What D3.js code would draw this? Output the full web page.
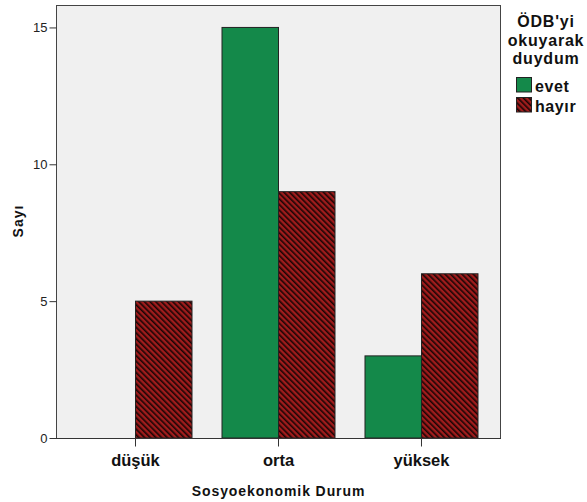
<!DOCTYPE html>
<html><head><meta charset="utf-8">
<script src="https://cdn.jsdelivr.net/npm/d3@7"></script>
<style>body{margin:0;background:#fff}svg{display:block}</style>
</head><body>
<svg id="c" width="587" height="502"></svg>
<script>
const categories = ["düşük", "orta", "yüksek"];
const seriesNames = ["evet", "hayır"];
const evet = [0, 15, 3];
const hayir = [5, 9, 6];
const yTicks = [0, 5, 10, 15];
const legendTitle = ["ÖDB'yi", "okuyarak", "duydum"];
const xTitle = "Sosyoekonomik Durum";
const yTitle = "Sayı";

const values = [evet, hayir];
const svg = d3.select("#c");
const font = "Arial, 'Liberation Sans', sans-serif";
const L = 56, R = 501, T = 5, B = 438;

const defs = svg.append("defs");
const pat = defs.append("pattern").attr("id", "hatch").attr("patternUnits", "userSpaceOnUse")
  .attr("width", 4).attr("height", 4).attr("patternTransform", "rotate(-45)");
pat.append("rect").attr("width", 4).attr("height", 4).attr("fill", "#a01c1c");
pat.append("rect").attr("x", 0).attr("width", 1.6).attr("height", 4).attr("fill", "#1a0505");

const x0 = d3.scaleBand().domain(categories).range([L, R]).paddingInner(0).paddingOuter(0.056);
const innerW = 113;
const x1 = d3.scaleBand().domain(seriesNames).range([0, innerW]);
const y = d3.scaleLinear().domain([0, 15.82]).range([B, T]);

svg.append("rect").attr("x", L).attr("y", T).attr("width", R - L).attr("height", B - T).attr("fill", "#f0f0f0");

const fills = ["#14894a", "url(#hatch)"];
seriesNames.forEach((s, si) => {
  svg.append("g").selectAll("rect").data(categories.map((c, i) => ({c, v: values[si][i]})).filter(d => d.v > 0))
    .join("rect")
    .attr("x", d => x0(d.c) + x0.bandwidth() / 2 - innerW / 2 + x1(s))
    .attr("y", d => y(d.v))
    .attr("width", x1.bandwidth())
    .attr("height", d => B - y(d.v))
    .attr("fill", fills[si])
    .attr("stroke", "#222").attr("stroke-width", 1);
});

// frame
svg.append("rect").attr("x", L + 0.5).attr("y", T + 0.5).attr("width", R - L - 1).attr("height", B - T)
  .attr("fill", "none").attr("stroke", "#444").attr("stroke-width", 1);

// y axis
const ya = svg.append("g").attr("transform", `translate(${L + 0.5},0)`)
  .call(d3.axisLeft(y).tickValues(yTicks).tickSize(7).tickPadding(2).tickFormat(d3.format("d")));
ya.select(".domain").remove();
ya.selectAll("line").attr("stroke", "#333");
ya.selectAll("text").attr("font-family", font).attr("font-size", 13).attr("fill", "#222");

// x axis
const xa = svg.append("g").attr("transform", `translate(0,${B + 0.5})`)
  .call(d3.axisBottom(x0).tickSize(8).tickPadding(8));
xa.select(".domain").attr("stroke", "#333").attr("d", `M${L},0H${R}`);
xa.selectAll("line").attr("stroke", "#333");
xa.selectAll("text").attr("font-family", font).attr("font-size", 16.5).attr("font-weight", "bold").attr("fill", "#111");

svg.append("text").attr("x", (L + R) / 2).attr("y", 496).attr("text-anchor", "middle")
  .attr("font-family", font).attr("font-size", 14).attr("letter-spacing", 0.9).attr("font-weight", "bold").attr("fill", "#111").text(xTitle);
svg.append("text").attr("transform", `translate(23,${221}) rotate(-90)`).attr("text-anchor", "middle")
  .attr("font-family", font).attr("font-size", 14).attr("letter-spacing", 1).attr("font-weight", "bold").attr("fill", "#111").text(yTitle);

// legend
const lg = svg.append("g");
legendTitle.forEach((t, i) => {
  lg.append("text").attr("x", 546).attr("y", 27 + i * 18.5).attr("text-anchor", "middle")
    .attr("font-family", font).attr("font-size", 16).attr("letter-spacing", 0.8).attr("font-weight", "bold").attr("fill", "#111").text(t);
});
seriesNames.forEach((s, i) => {
  lg.append("rect").attr("x", 516.5).attr("y", 77.5 + i * 20).attr("width", 15).attr("height", 14.5)
    .attr("fill", fills[i]).attr("stroke", "#222");
  lg.append("text").attr("x", 535).attr("y", 92 + i * 20)
    .attr("font-family", font).attr("font-size", 16).attr("letter-spacing", 0.6).attr("font-weight", "bold").attr("fill", "#111").text(s);
});
</script>
</body></html>
